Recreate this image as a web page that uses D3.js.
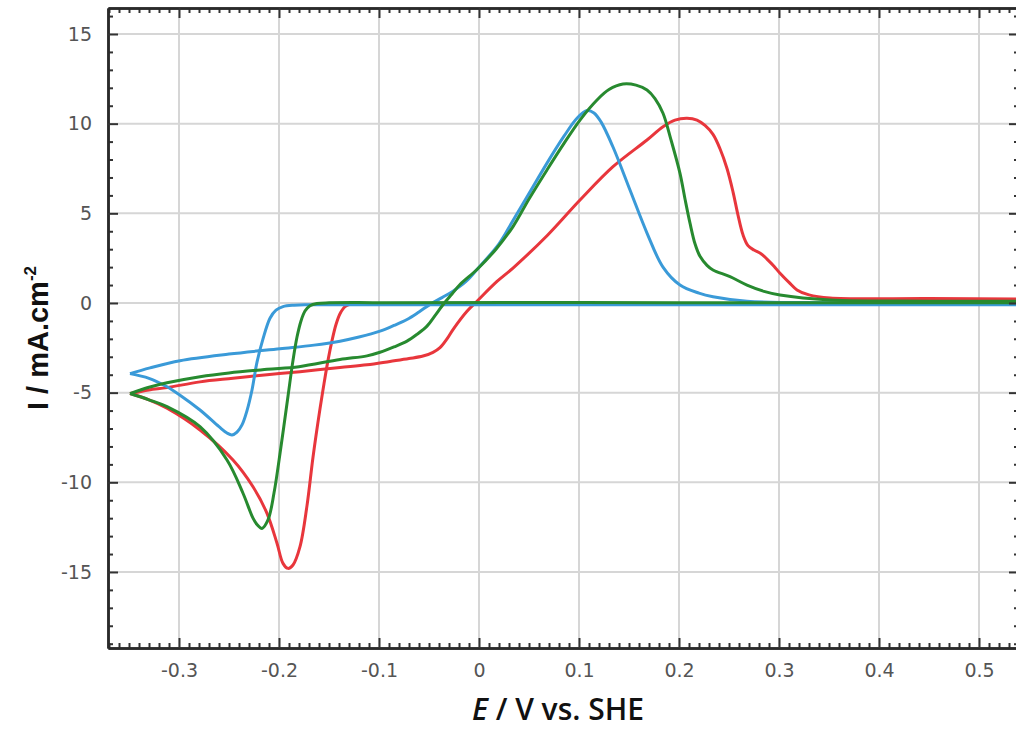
<!DOCTYPE html>
<html>
<head>
<meta charset="utf-8">
<script src="https://cdn.jsdelivr.net/npm/d3@7"></script>
<style>
  body { margin: 0; background: #fff; }
  svg { display: block; }
</style>
</head>
<body>
<script>
// cyclic voltammograms as [E (V vs SHE), I (mA/cm2)]
// forward = anodic scan from the -0.35 V vertex, reverse = cathodic scan back to it
let blueForward = [
    [-0.349,-3.94],[-0.329,-3.62],[-0.299,-3.22],[-0.25,-2.85],[-0.199,-2.55],[-0.165,-2.35],
    [-0.139,-2.13],[-0.12,-1.9],[-0.099,-1.57],[-0.085,-1.25],[-0.072,-0.92],[-0.06,-0.5],
    [-0.049,-0.08],[-0.037,0.3],[-0.026,0.66],[-0.013,1.2],[-0.002,1.87],[0.02,3.3],
    [0.034,4.6],[0.05,6.1],[0.068,7.8],[0.085,9.3],[0.098,10.3],[0.108,10.73],[0.115,10.6],
    [0.122,10.1],[0.134,8.7],[0.151,6.3],[0.168,3.9],[0.184,2.0],[0.201,1.0],[0.22,0.55],
    [0.234,0.35],[0.268,0.1],[0.35,0.02],[0.45,0],[0.56,0]
];
let blueReverse = [
    [0.56,-0.1],[0.2,-0.1],[-0.1,-0.1],[-0.17,-0.1],[-0.185,-0.12],[-0.196,-0.2],[-0.203,-0.4],
    [-0.209,-0.85],[-0.216,-2.0],[-0.222,-3.3],[-0.227,-4.85],[-0.232,-6.0],[-0.237,-6.8],
    [-0.242,-7.2],[-0.247,-7.36],[-0.252,-7.25],[-0.26,-6.9],[-0.279,-5.97],[-0.3,-5.1],
    [-0.312,-4.67],[-0.33,-4.2],[-0.349,-3.94]
];
let greenForward = [
    [-0.349,-5.05],[-0.33,-4.7],[-0.312,-4.45],[-0.279,-4.11],[-0.25,-3.9],[-0.212,-3.7],
    [-0.18,-3.55],[-0.139,-3.15],[-0.112,-2.95],[-0.099,-2.75],[-0.085,-2.45],[-0.072,-2.13],
    [-0.062,-1.75],[-0.052,-1.29],[-0.044,-0.7],[-0.036,-0.1],[-0.027,0.5],[-0.019,1.03],
    [-0.002,1.87],[0.017,3.0],[0.034,4.26],[0.05,5.8],[0.068,7.42],[0.085,8.9],[0.101,10.2],
    [0.118,11.32],[0.13,11.9],[0.144,12.21],[0.157,12.15],[0.168,11.88],[0.176,11.4],
    [0.184,10.58],[0.192,9.1],[0.201,7.23],[0.206,5.8],[0.211,4.45],[0.216,3.3],[0.221,2.6],
    [0.228,2.1],[0.234,1.84],[0.251,1.47],[0.268,1.0],[0.285,0.65],[0.301,0.45],[0.351,0.17],
    [0.45,0.1],[0.56,0.1]
];
let greenReverse = [
    [0.56,0.02],[0.2,0.02],[-0.1,0.02],[-0.15,0.01],[-0.162,-0.03],[-0.169,-0.15],[-0.174,-0.45],
    [-0.178,-1.0],[-0.182,-1.9],[-0.186,-3.2],[-0.191,-5.2],[-0.198,-8.0],[-0.205,-10.6],
    [-0.211,-12.1],[-0.217,-12.57],[-0.222,-12.35],[-0.226,-12.0],[-0.236,-10.61],
    [-0.252,-8.76],[-0.279,-6.9],[-0.312,-5.78],[-0.33,-5.4],[-0.349,-5.05]
];
let redForward = [
    [-0.349,-5.05],[-0.33,-4.85],[-0.312,-4.72],[-0.279,-4.4],[-0.246,-4.2],[-0.212,-4.0],
    [-0.179,-3.83],[-0.139,-3.6],[-0.112,-3.45],[-0.089,-3.26],[-0.07,-3.1],[-0.056,-2.96],
    [-0.046,-2.75],[-0.039,-2.49],[-0.032,-2.0],[-0.026,-1.48],[-0.012,-0.46],[-0.002,0.1],
    [0.018,1.2],[0.034,1.95],[0.068,3.75],[0.101,5.74],[0.134,7.6],[0.168,9.09],[0.184,9.83],
    [0.196,10.2],[0.208,10.3],[0.218,10.2],[0.226,9.9],[0.234,9.4],[0.241,8.6],[0.248,7.5],
    [0.254,6.2],[0.259,4.9],[0.264,3.8],[0.269,3.2],[0.275,2.95],[0.282,2.75],[0.288,2.45],
    [0.295,2.05],[0.301,1.66],[0.31,1.15],[0.318,0.73],[0.33,0.45],[0.351,0.28],[0.45,0.25],
    [0.56,0.22]
];
let redReverse = [
    [0.56,-0.03],[0.2,-0.03],[-0.1,-0.03],[-0.12,-0.03],[-0.128,-0.06],[-0.134,-0.2],
    [-0.139,-0.6],[-0.143,-1.2],[-0.147,-2.1],[-0.151,-3.2],[-0.155,-4.5],[-0.159,-5.9],
    [-0.166,-8.6],[-0.172,-11.3],[-0.179,-13.59],[-0.186,-14.61],[-0.191,-14.8],
    [-0.196,-14.52],[-0.202,-13.4],[-0.212,-11.73],[-0.226,-10.25],[-0.246,-8.76],
    [-0.279,-7.08],[-0.312,-5.87],[-0.33,-5.4],[-0.349,-5.05]
];

let series = [
    {name:'red', color:'#e8363c', branches:[redForward, redReverse]},
    {name:'blue', color:'#3a9ad8', branches:[blueForward, blueReverse]},
    {name:'green', color:'#278a2f', branches:[greenForward, greenReverse]}
];

let xTicks = [-0.3,-0.2,-0.1,0,0.1,0.2,0.3,0.4,0.5],
    yTicks = [-15,-10,-5,0,5,10,15];
let xLabel = 'E', xLabelRest = ' / V vs. SHE',
    yLabel = 'I / mA.cm', yLabelSup = '-2';

let width = 1016,
    height = 731,
    pLeft = 108, pRight = 1019, pTop = 8, pBottom = 648;

let xScale = d3.scaleLinear([-0.371, 0.54], [pLeft, pRight]),
    yScale = d3.scaleLinear([-19.24, 16.45], [pBottom, pTop]);

let svg = d3.select('body').append('svg').attr('width', width).attr('height', height);

// grid
let grid = svg.append('g').style('stroke', '#d6d6d6').style('stroke-width', '2px');
grid.selectAll('.gx').data(xTicks).join('line').attr('class', 'gx')
    .attr('x1', d=>xScale(d)).attr('x2', d=>xScale(d))
    .attr('y1', pTop).attr('y2', pBottom);
grid.selectAll('.gy').data(yTicks).join('line').attr('class', 'gy')
    .attr('x1', pLeft).attr('x2', pRight)
    .attr('y1', d=>yScale(d)).attr('y2', d=>yScale(d));

// curves
svg.append('clipPath').attr('id', 'plot')
    .append('rect').attr('x', pLeft).attr('y', pTop)
    .attr('width', pRight-pLeft).attr('height', pBottom-pTop);

let lineGen = d3.line()
    .x(d=>xScale(d[0]))
    .y(d=>yScale(d[1]))
    .curve(d3.curveCatmullRom.alpha(0.5));

let curves = svg.append('g').attr('clip-path', 'url(#plot)');
series.forEach(s=>{
    curves.append('g')
        .selectAll('path')
        .data(s.branches)
        .join('path')
        .attr('d', lineGen)
        .style('fill', 'none')
        .style('stroke', s.color)
        .style('stroke-width', '3px')
        .style('stroke-linejoin', 'round');
});

// axes, ticks pointing inward on all four sides
let xMinor = d3.range(-37, 55).map(d=>d/100).filter(d=>Math.abs(d*10-Math.round(d*10))>1e-6),
    yMinor = d3.range(-19, 17).filter(d=>d%5!==0);

function frame(axisFn, scale, pos, major, minor, labels){
    let g = svg.append('g').attr('transform', pos);
    g.call(axisFn(scale).tickValues(minor).tickSize(-5).tickSizeOuter(0).tickFormat(''));
    let m = svg.append('g').attr('transform', pos);
    m.call(axisFn(scale).tickValues(major).tickSize(-10).tickSizeOuter(0)
        .tickPadding(labels ? 16 : 0)
        .tickFormat(labels ? (d=>String(d)) : ''));
    for(let s of [g, m]){
        s.selectAll('line').style('stroke', '#333').style('stroke-width', '2px');
        s.select('.domain').style('stroke', '#2a2a2a').style('stroke-width', '2.5px');
    }
    m.selectAll('text')
        .style('font-family', 'DejaVu Sans, sans-serif')
        .style('font-size', '19px')
        .style('fill', '#555');
    return m;
}

frame(d3.axisBottom, xScale, `translate(0,${pBottom})`, xTicks, xMinor, true);
frame(d3.axisTop, xScale, `translate(0,${pTop})`, xTicks, xMinor, false);
frame(d3.axisLeft, yScale, `translate(${pLeft},0)`, yTicks, yMinor, true);
frame(d3.axisRight, yScale, `translate(${pRight},0)`, yTicks, yMinor, false);

// axis titles
let xt = svg.append('text')
    .attr('x', 558).attr('y', 720)
    .attr('text-anchor', 'middle')
    .style('font-family', 'Open Sans, sans-serif')
    .style('font-weight', '600')
    .style('font-size', '30px')
    .style('fill', '#111');
xt.append('tspan').style('font-style', 'italic').text(xLabel);
xt.append('tspan').text(xLabelRest);

let yt = svg.append('text')
    .attr('transform', 'translate(48,338) rotate(-90)')
    .attr('text-anchor', 'middle')
    .style('font-family', 'Liberation Sans, Arial, sans-serif')
    .style('font-weight', 'bold')
    .style('font-size', '29px')
    .style('fill', '#111');
yt.append('tspan').text(yLabel);
yt.append('tspan').attr('dy', -12).style('font-size', '17px').text(yLabelSup);
</script>
</body>
</html>
